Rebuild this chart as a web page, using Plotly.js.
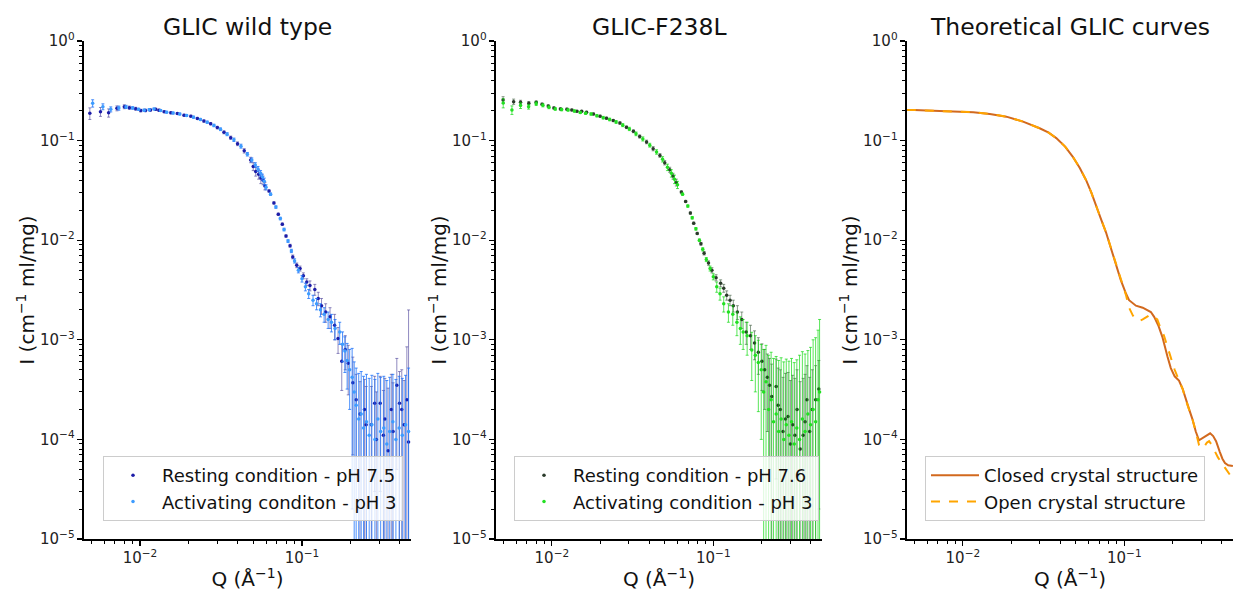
<!DOCTYPE html>
<html>
<head>
<meta charset="utf-8">
<script src="https://cdn.plot.ly/plotly-3.0.1.min.js"></script>
<style>html,body{margin:0;padding:0;background:#fff;}#chart{width:1233px;height:591px;}</style>
</head>
<body>
<div id="chart"></div>
<script>
// ---------- Panel 1: GLIC wild type ----------
const wtRestQ = [0.0049,0.0057,0.0064,0.0072,0.0080,0.0086,0.0094,0.0101,0.0108,0.0116,0.0125,0.0131,0.0141,0.0155,0.0170,0.0187,0.0206,0.0226,0.0248,0.0273,0.0300,0.0330,0.0363,0.0400,0.0440,0.0482,0.0500,0.0518,0.0540,0.0557,0.0575,0.0590,0.0626,0.0671,0.0714,0.0756,0.0797,0.0844,0.0877,0.0928,0.0973,0.102,0.107,0.112,0.120,0.126,0.132,0.140,0.149,0.159,0.167,0.176,0.185,0.193,0.206,0.216,0.228,0.243,0.249,0.268,0.281,0.288,0.304,0.318,0.325,0.340,0.356,0.365,0.385,0.400,0.413,0.427,0.444,0.455];
const wtRestI = [0.188,0.195,0.190,0.211,0.219,0.214,0.209,0.200,0.201,0.203,0.206,0.202,0.195,0.190,0.187,0.180,0.176,0.167,0.157,0.148,0.135,0.121,0.107,0.093,0.079,0.064,0.055,0.049,0.046,0.042,0.040,0.035,0.0312,0.0237,0.0182,0.0145,0.0110,0.0088,0.0068,0.0056,0.0052,0.0044,0.0038,0.0035,0.0032,0.0026,0.0022,0.0019,0.0017,0.0014,0.00103,0.00061,0.00080,0.00058,0.00037,0.00025,0.00018,0.00020,0.00014,0.00014,0.00023,0.00010,0.00023,0.00011,0.00016,0.000077,0.00020,0.00012,0.00035,0.00023,0.00020,0.00014,0.00025,0.000094];
const wtRestE = [0.025,0.02,0.018,0.012,0.01,0.008,0.007,0.006,0.006,0.005,0.005,0.005,0.004,0.004,0.004,0.004,0.004,0.004,0.004,0.004,0.004,0.004,0.004,0.004,0.004,0.004,0.005,0.005,0.005,0.005,0.004,0.003,0.0008,0.0006,0.0005,0.0004,0.0003,0.0003,0.0003,0.0003,0.0003,0.0003,0.0003,0.0004,0.0004,0.0004,0.0004,0.0004,0.0004,0.0004,0.0003,0.0003,0.0003,0.0003,0.0003,0.0002,0.0002,0.0002,0.0002,0.0002,0.0002,0.0002,0.0002,0.0002,0.00025,0.00025,0.00025,0.00025,0.0003,0.00025,0.0003,0.00025,0.0006,0.0019];

const wtActQ = [0.0051,0.0059,0.0066,0.0074,0.0082,0.0090,0.0098,0.0106,0.0114,0.0122,0.0134,0.0146,0.0160,0.0176,0.0194,0.0214,0.0236,0.0260,0.0286,0.0314,0.0345,0.0380,0.0420,0.0460,0.0490,0.0515,0.0535,0.0555,0.0570,0.0585,0.0600,0.0640,0.0690,0.0735,0.0775,0.0820,0.0860,0.0900,0.0950,0.100,0.105,0.110,0.117,0.123,0.130,0.137,0.145,0.152,0.160,0.171,0.178,0.184,0.190,0.197,0.204,0.210,0.216,0.224,0.232,0.240,0.250,0.260,0.270,0.282,0.294,0.306,0.320,0.334,0.348,0.364,0.380,0.398,0.416,0.436,0.455];
const wtActI = [0.237,0.219,0.206,0.212,0.218,0.213,0.206,0.202,0.204,0.208,0.201,0.193,0.189,0.185,0.179,0.172,0.163,0.153,0.142,0.130,0.116,0.102,0.088,0.073,0.064,0.057,0.052,0.047,0.043,0.039,0.034,0.029,0.0215,0.0165,0.0128,0.0098,0.0078,0.0062,0.0050,0.0041,0.0034,0.0029,0.0025,0.0023,0.0020,0.0018,0.0016,0.0015,0.0013,0.0012,0.00090,0.00077,0.00062,0.00050,0.00042,0.00030,0.00022,0.00016,0.00018,0.00013,0.00015,0.00011,0.00014,0.00010,0.00016,0.00012,0.00013,0.00009,0.00012,0.00015,0.00010,0.00013,0.00011,0.00014,0.00012];
const wtActE = [0.02,0.015,0.012,0.01,0.008,0.006,0.005,0.005,0.005,0.004,0.004,0.004,0.004,0.004,0.004,0.004,0.004,0.004,0.004,0.004,0.004,0.004,0.004,0.003,0.003,0.003,0.003,0.003,0.003,0.003,0.002,0.0008,0.0006,0.0005,0.0004,0.0003,0.0003,0.0003,0.0003,0.0003,0.0003,0.0003,0.0003,0.0003,0.0003,0.0003,0.0003,0.0003,0.0003,0.0003,0.0003,0.0003,0.0003,0.0003,0.0004,0.0003,0.0003,0.0003,0.0003,0.0003,0.0003,0.0003,0.0003,0.0003,0.0003,0.0003,0.0003,0.0003,0.0003,0.0003,0.0003,0.0003,0.0003,0.0003,0.0004];

// ---------- Panel 2: GLIC-F238L ----------
const mutRestQ = [0.00499,0.0058,0.0064,0.0072,0.0080,0.0087,0.0095,0.0103,0.0113,0.0124,0.0133,0.0143,0.0153,0.0164,0.0181,0.0199,0.0218,0.0240,0.0264,0.0290,0.0320,0.0350,0.0386,0.0424,0.0467,0.0500,0.0537,0.0563,0.0590,0.0634,0.0674,0.0721,0.0756,0.0795,0.0838,0.0877,0.0934,0.098,0.104,0.111,0.116,0.121,0.127,0.133,0.141,0.150,0.160,0.170,0.180,0.190,0.200,0.208,0.216,0.223,0.230,0.245,0.252,0.260,0.270,0.280,0.290,0.300,0.310,0.320,0.330,0.345,0.360,0.370,0.380,0.395,0.410,0.430,0.450];
const mutRestI = [0.256,0.246,0.242,0.237,0.242,0.232,0.222,0.213,0.208,0.207,0.203,0.197,0.197,0.193,0.185,0.176,0.168,0.159,0.150,0.136,0.124,0.110,0.097,0.083,0.071,0.060,0.051,0.044,0.038,0.0304,0.0245,0.0187,0.0148,0.0117,0.0092,0.0074,0.0059,0.0050,0.0042,0.0037,0.0033,0.0028,0.0025,0.0022,0.0019,0.0016,0.0012,0.0011,0.00093,0.00075,0.00061,0.00050,0.00042,0.00035,0.00027,0.00034,0.00022,0.00020,0.00012,0.00016,0.00017,0.00009,0.00014,0.00011,0.00020,0.00008,0.00011,0.00015,0.00025,0.00012,0.00020,0.00025,0.00032];
const mutRestE = [0.02,0.015,0.012,0.01,0.008,0.006,0.006,0.005,0.005,0.005,0.004,0.004,0.004,0.004,0.004,0.004,0.004,0.004,0.004,0.004,0.004,0.004,0.004,0.004,0.003,0.003,0.003,0.003,0.003,0.0008,0.0006,0.0005,0.0004,0.0003,0.0003,0.0003,0.0003,0.0003,0.0003,0.0003,0.0003,0.0003,0.0003,0.0003,0.0003,0.0003,0.0003,0.0003,0.0003,0.0003,0.0003,0.0003,0.0003,0.0003,0.0003,0.0003,0.0003,0.0003,0.0003,0.0003,0.0003,0.0003,0.0003,0.0003,0.0003,0.0003,0.0003,0.0003,0.0003,0.0003,0.0003,0.0003,0.0003];

const mutActQ = [0.0050,0.00566,0.0064,0.00718,0.0080,0.0088,0.0096,0.0105,0.0115,0.0126,0.0138,0.0150,0.0162,0.0175,0.0190,0.0208,0.0228,0.0250,0.0275,0.0302,0.0332,0.0366,0.0404,0.0445,0.0485,0.0520,0.0550,0.0575,0.0600,0.0645,0.0695,0.0740,0.0780,0.0820,0.0860,0.0905,0.0955,0.100,0.105,0.110,0.116,0.124,0.132,0.140,0.147,0.153,0.162,0.173,0.182,0.190,0.198,0.205,0.212,0.220,0.228,0.236,0.245,0.254,0.263,0.273,0.283,0.294,0.305,0.317,0.329,0.342,0.356,0.370,0.385,0.400,0.415,0.430,0.445,0.455];
const mutActI = [0.238,0.203,0.225,0.219,0.235,0.226,0.216,0.208,0.205,0.203,0.198,0.192,0.188,0.185,0.178,0.170,0.163,0.154,0.143,0.131,0.117,0.104,0.090,0.077,0.065,0.054,0.047,0.041,0.036,0.0290,0.0220,0.0168,0.0130,0.0100,0.0081,0.0064,0.0052,0.0043,0.0034,0.0029,0.0023,0.0019,0.0018,0.0015,0.0013,0.0012,0.0011,0.00079,0.00070,0.00059,0.00050,0.00030,0.00038,0.00020,0.00025,0.00015,0.00018,0.00012,0.00016,0.00010,0.00014,0.00011,0.00015,0.00009,0.00013,0.00010,0.00016,0.00012,0.00018,0.00014,0.00020,0.00015,0.00025,0.00030];
const mutActE = [0.025,0.02,0.015,0.012,0.01,0.008,0.007,0.006,0.006,0.005,0.005,0.005,0.005,0.005,0.005,0.005,0.005,0.005,0.005,0.005,0.005,0.005,0.004,0.004,0.004,0.004,0.004,0.004,0.003,0.0008,0.0006,0.0005,0.0004,0.0003,0.0003,0.0003,0.0003,0.0003,0.0004,0.0004,0.0004,0.0004,0.0004,0.0004,0.0004,0.0004,0.0004,0.0004,0.0004,0.0004,0.0004,0.0005,0.0005,0.0005,0.0005,0.0005,0.0005,0.0005,0.0005,0.0005,0.0005,0.0005,0.0005,0.0005,0.0005,0.0006,0.0006,0.0006,0.0006,0.0007,0.0008,0.0009,0.0010,0.0013];

// ---------- Panel 3: Theoretical GLIC curves ----------
const closedQ = [0.0045,0.0050,0.0072,0.0100,0.0116,0.0147,0.0186,0.0236,0.0299,0.0340,0.0379,0.0430,0.048,0.053,0.058,0.0625,0.0669,0.072,0.077,0.083,0.0888,0.095,0.1025,0.107,0.118,0.130,0.146,0.153,0.163,0.172,0.185,0.194,0.205,0.218,0.230,0.240,0.252,0.264,0.277,0.290,0.305,0.320,0.340,0.355,0.370,0.390,0.405,0.420,0.440,0.470];
const closedI = [0.203,0.203,0.198,0.195,0.193,0.185,0.174,0.155,0.133,0.120,0.106,0.087,0.0688,0.053,0.040,0.030,0.0217,0.0160,0.012,0.0082,0.0057,0.0040,0.0029,0.0025,0.0022,0.0021,0.0019,0.0017,0.00137,0.00107,0.00068,0.00052,0.00043,0.00039,0.00032,0.00025,0.00020,0.00016,0.00012,0.000098,0.000103,0.000110,0.000115,0.000108,0.000096,0.000075,0.000064,0.000058,0.000055,0.000054];
const openQ = [0.0045,0.0050,0.0072,0.0100,0.0116,0.0147,0.0186,0.0236,0.0299,0.0340,0.0379,0.0430,0.048,0.053,0.058,0.0625,0.0669,0.072,0.077,0.083,0.0888,0.095,0.1025,0.107,0.113,0.118,0.124,0.130,0.138,0.146,0.153,0.160,0.168,0.176,0.185,0.194,0.205,0.218,0.230,0.240,0.252,0.264,0.277,0.290,0.300,0.310,0.325,0.335,0.345,0.360,0.380,0.410,0.440,0.470];
const openI = [0.203,0.203,0.198,0.195,0.193,0.185,0.174,0.155,0.133,0.120,0.106,0.087,0.0688,0.053,0.040,0.030,0.0217,0.0160,0.012,0.0082,0.0057,0.0040,0.0028,0.0021,0.00175,0.0016,0.00155,0.0016,0.0017,0.0018,0.0017,0.0016,0.0013,0.0011,0.00085,0.00065,0.00050,0.00039,0.00032,0.00025,0.00020,0.00016,0.00012,0.000088,0.000081,0.000083,0.000093,0.000096,0.000090,0.000078,0.000066,0.000055,0.000046,0.000040];

// ---------- Labels ----------
const panelTitles = ["GLIC wild type", "GLIC-F238L", "Theoretical GLIC curves"];
const legendNames = [
  ["Resting condition - pH 7.5", "Activating conditon - pH 3"],
  ["Resting condition - pH 7.6", "Activating condition - pH 3"],
  ["Closed crystal structure", "Open crystal structure"]
];
// tick label for the decade 10^0 (plotly would print it as "1")
const yTopLabel = {"1": "10<sup>0</sup>"};
const xTitle = "Q (\u00C5<sup>\u22121</sup>)";
const yTitle = "I (cm<sup>\u22121</sup> ml/mg)";

const FONT = "DejaVu Sans, Liberation Sans, sans-serif";

function errTrace(q, i, e, name, mColor, eColor, ax, leg) {
  return {
    type: 'scatter', mode: 'markers', x: q, y: i, name: name,
    xaxis: 'x' + ax, yaxis: 'y' + ax, legend: leg,
    marker: {size: 3.5, color: mColor},
    error_y: {type: 'data', array: e, visible: true, color: eColor, thickness: 1, width: 1.5}
  };
}

const traces = [
  errTrace(wtRestQ, wtRestI, wtRestE, legendNames[0][0], '#1c1ca8', 'rgba(70,60,150,0.6)', '', 'legend'),
  errTrace(wtActQ, wtActI, wtActE, legendNames[0][1], '#3d9cff', 'rgba(30,115,250,0.8)', '', 'legend'),
  errTrace(mutRestQ, mutRestI, mutRestE, legendNames[1][0], '#2a3a2a', 'rgba(60,90,60,0.6)', '2', 'legend2'),
  errTrace(mutActQ, mutActI, mutActE, legendNames[1][1], '#22e022', 'rgba(0,215,0,0.65)', '2', 'legend2'),
  {type: 'scatter', mode: 'lines', x: closedQ, y: closedI, name: legendNames[2][0], xaxis: 'x3', yaxis: 'y3', legend: 'legend3',
   line: {color: '#d2691e', width: 2}},
  {type: 'scatter', mode: 'lines', x: openQ, y: openI, name: legendNames[2][1], xaxis: 'x3', yaxis: 'y3', legend: 'legend3',
   line: {color: '#ffa500', width: 2, dash: 'dash'}}
];

const W = 1233, H = 591;
const xDomains = [[84 / W, 411 / W], [496 / W, 822 / W], [907 / W, 1.0]];
const yDomain = [(H - 539) / H, (H - 41) / H];
const xRange = [Math.log10(0.00451), Math.log10(0.471)];

function commonAxis() {
  return {
    type: 'log', dtick: 1, exponentformat: 'power', showexponent: 'all',
    showline: true, linecolor: 'black', linewidth: 2, mirror: false,
    ticks: 'outside', ticklen: 5, tickwidth: 1.3, tickcolor: 'black',
    minor: {ticks: 'outside', ticklen: 3, tickwidth: 1, tickcolor: 'black', dtick: 'D1', showgrid: false},
    showgrid: false, zeroline: false,
    tickfont: {family: FONT, size: 12, color: '#222'}
  };
}
function xAxis(i) {
  return Object.assign(commonAxis(), {
    domain: xDomains[i], range: xRange, anchor: i === 0 ? 'y' : 'y' + (i + 1),
    title: {text: xTitle, font: {family: FONT, size: 20, color: '#111'}, standoff: 6}
  });
}
function yAxis(i) {
  return Object.assign(commonAxis(), {
    domain: yDomain, range: [-5, 0], anchor: i === 0 ? 'x' : 'x' + (i + 1),
    labelalias: yTopLabel,
    title: {text: yTitle, font: {family: FONT, size: 20, color: '#111'}, standoff: 0}
  });
}
function legendBox(xPix) {
  return {
    x: xPix / W, y: (H - 456) / H, xanchor: 'left', yanchor: 'top',
    bgcolor: 'rgba(255,255,255,0.8)', bordercolor: '#cccccc', borderwidth: 1,
    font: {family: FONT, size: 18, color: '#111'}, itemwidth: 48, tracegroupgap: 0
  };
}

const layout = {
  width: W, height: H,
  margin: {l: 0, r: 0, t: 0, b: 0},
  paper_bgcolor: 'white', plot_bgcolor: 'white',
  font: {family: FONT},
  showlegend: true,
  xaxis: xAxis(0), yaxis: yAxis(0),
  xaxis2: xAxis(1), yaxis2: yAxis(1),
  xaxis3: xAxis(2), yaxis3: yAxis(2),
  legend: legendBox(103), legend2: legendBox(514), legend3: legendBox(925),
  annotations: panelTitles.map((t, i) => ({
    text: t, xref: 'paper', yref: 'paper',
    x: (xDomains[i][0] + xDomains[i][1]) / 2, y: (H - 27) / H,
    xanchor: 'center', yanchor: 'middle', showarrow: false,
    font: {family: FONT, size: 23.5, color: '#111'}
  }))
};

Plotly.newPlot('chart', traces, layout, {displayModeBar: false, staticPlot: true});
</script>
</body>
</html>
